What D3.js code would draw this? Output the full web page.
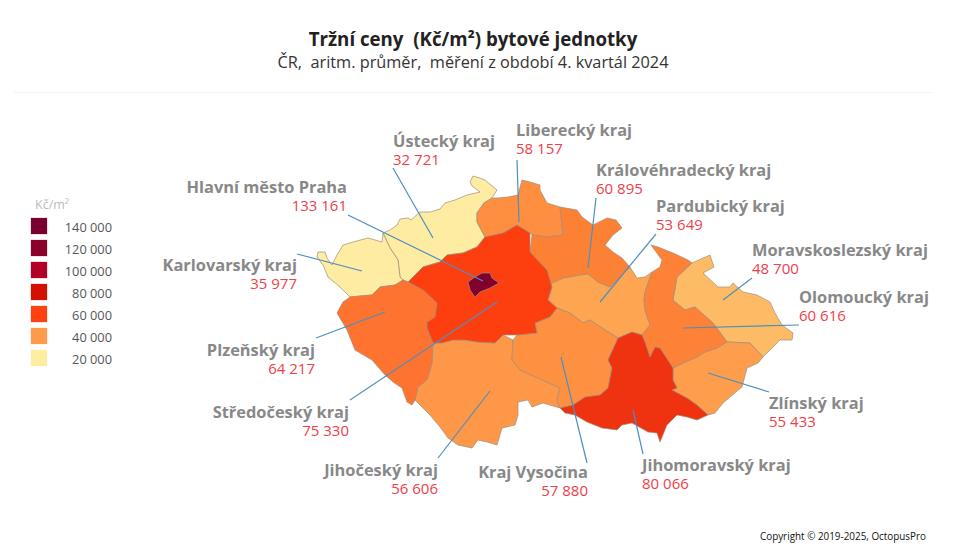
<!DOCTYPE html>
<html lang="cs">
<head>
<meta charset="utf-8">
<script src="https://cdnjs.cloudflare.com/ajax/libs/d3/7.8.5/d3.min.js"></script>
<style>
  html, body { margin: 0; background: #fff; }
  svg { display: block; font-family: "Open Sans", sans-serif; }
</style>
</head>
<body>
<svg id="chart"></svg>
<script>
// values from the picture
const regionNames = ["Ústecký kraj", "Liberecký kraj", "Královéhradecký kraj", "Pardubický kraj",
  "Hlavní město Praha", "Moravskoslezský kraj", "Karlovarský kraj", "Olomoucký kraj", "Plzeňský kraj",
  "Středočeský kraj", "Zlínský kraj", "Jihočeský kraj", "Kraj Vysočina", "Jihomoravský kraj"];
const regionPrices = [32721, 58157, 60895, 53649, 133161, 48700, 35977, 60616, 64217, 75330, 55433, 56606, 57880, 80066];

const legendTicks = [140000, 120000, 100000, 80000, 60000, 40000, 20000];
const legendColors = ["#7a0030", "#8b0026", "#b10026", "#d41000", "#ff4010", "#fe9a49", "#ffeda0"];

const fillPrices = [36000, 48700, 56000, 61000, 64000, 75000, 80000, 133000];
const fillColors = ["#feeca3", "#febb66", "#fe9a49", "#fd8035", "#fe7430", "#fe4010", "#ef320f", "#80002f"];

// region outlines in map units
const outlines = {
  "Ústecký kraj": [[383,233],[390,230],[397,225],[400,219],[408,218],[411,220],[420,212],[430,212],[440,209],[445,203],[455,200],[467,195],[480,192],[472,186],[470,182],[473,176],[480,178],[485,180],[497,190],[492,198],[484,203],[477,213],[477,222],[485,237],[477,247],[463,253],[447,255],[440,262],[423,267],[408,282],[403,280],[400,277],[398,260],[390,248]],
  "Karlovarský kraj": [[383,233],[390,248],[398,260],[400,277],[403,280],[395,285],[380,287],[372,295],[360,296],[350,297],[340,287],[328,277],[323,265],[317,257],[318,252],[325,252],[327,258],[332,265],[337,255],[343,245],[353,242],[368,238],[382,242]],
  "Plzeňský kraj": [[350,297],[360,296],[372,295],[380,287],[395,285],[403,280],[408,282],[423,290],[437,303],[435,317],[427,322],[427,328],[433,343],[432,363],[427,380],[418,387],[415,400],[412,405],[407,402],[402,388],[393,382],[385,375],[372,360],[355,350],[347,330],[337,313],[343,302]],
  "Středočeský kraj": [[408,282],[423,267],[440,262],[447,255],[463,253],[477,247],[485,237],[503,233],[517,225],[530,233],[530,252],[547,270],[552,287],[548,300],[557,308],[550,317],[535,323],[537,333],[517,335],[503,335],[495,343],[477,342],[465,340],[453,340],[442,343],[433,343],[427,328],[427,322],[435,317],[437,303],[423,290]],
  "Jihočeský kraj": [[433,343],[442,343],[453,340],[465,340],[477,342],[495,343],[503,335],[513,340],[512,360],[520,370],[538,378],[560,388],[557,400],[560,408],[543,403],[532,407],[528,400],[518,402],[518,415],[515,425],[502,428],[497,445],[487,442],[478,440],[472,448],[458,445],[448,438],[440,427],[430,415],[415,400],[418,387],[427,380],[432,363]],
  "Kraj Vysočina": [[513,340],[517,335],[537,333],[535,323],[550,317],[557,308],[570,313],[583,323],[590,320],[605,330],[618,338],[608,360],[612,368],[608,388],[600,395],[585,397],[573,405],[560,408],[557,400],[560,388],[538,378],[520,370],[512,360]],
  "Jihomoravský kraj": [[618,338],[632,332],[642,335],[645,342],[650,357],[655,347],[660,348],[673,368],[673,380],[677,388],[672,390],[687,398],[697,405],[708,415],[697,420],[687,417],[677,415],[667,425],[660,442],[657,433],[648,432],[632,423],[622,425],[617,430],[602,428],[587,422],[575,415],[565,413],[560,408],[573,405],[585,397],[600,395],[608,388],[612,368],[608,360]],
  "Zlínský kraj": [[673,368],[685,362],[697,357],[705,352],[717,348],[727,342],[750,343],[763,357],[758,363],[747,368],[742,387],[730,397],[723,403],[715,413],[708,415],[697,405],[687,398],[672,390],[677,388],[673,380]],
  "Olomoucký kraj": [[651,245],[658,247],[673,253],[688,260],[692,263],[677,277],[673,300],[685,310],[695,307],[713,323],[727,342],[717,348],[705,352],[697,357],[685,362],[673,368],[660,348],[655,347],[650,357],[645,342],[642,335],[650,325],[645,310],[644,300],[645,292],[652,272],[660,267],[662,260]],
  "Moravskoslezský kraj": [[692,263],[710,255],[714,267],[703,273],[718,287],[730,287],[733,283],[743,292],[757,295],[770,302],[775,313],[782,325],[793,333],[792,340],[780,340],[772,348],[763,357],[750,343],[727,342],[713,323],[695,307],[685,310],[673,300],[677,277]],
  "Pardubický kraj": [[548,285],[563,278],[580,275],[588,274],[598,282],[610,287],[630,267],[637,278],[645,277],[652,272],[645,292],[644,300],[645,310],[650,325],[642,335],[632,332],[618,338],[605,330],[590,320],[583,323],[570,313],[557,308],[548,300],[552,287]],
  "Královéhradecký kraj": [[532,235],[547,237],[563,235],[560,207],[577,210],[582,217],[593,225],[607,218],[616,220],[622,228],[613,235],[605,245],[613,252],[622,258],[630,267],[610,287],[598,282],[588,274],[580,275],[563,278],[548,285],[547,270],[530,252]],
  "Liberecký kraj": [[492,198],[497,198],[508,197],[518,195],[522,180],[530,182],[540,185],[540,190],[547,203],[560,207],[563,235],[547,237],[532,235],[530,233],[517,225],[503,233],[485,237],[477,222],[477,213],[484,203]],
  "Hlavní město Praha": [[468,282],[475,277],[482,273],[490,273],[492,278],[499,283],[490,288],[480,292],[475,297],[470,290]]
};

// leader ends in map units: label side, then region side
const leaderStarts = [[393,168],[517,160],[596,198],[656,234],[348,215],[752,278],[297,254],[799,325],[316,338],[350,400],[769,392],[438,458],[587,463],[643,454]];
const leaderEnds = [[433,238],[519,222],[588,268],[600,302],[483,281],[723,300],[362,271],[683,328],[385,312],[497,302],[708,373],[490,391],[561,357],[633,410]];

const labelAnchors = ["start", "start", "start", "start", "end", "start", "end", "start", "end", "end", "start", "end", "end", "start"];
const labelX = [393, 516, 596, 656, 347, 752, 297, 799, 315, 349, 769, 438, 588, 642];
const labelY = [147, 136, 176, 212, 193, 256, 271, 303, 356, 418, 409, 476, 478, 471];

const w = 968;
const h = 557;

const svg = d3.select("#chart").attr("width", w).attr("height", h);

const format = (v) => d3.format(",")(v).replace(/,/g, " ");
const color = d3.scaleLinear().domain(fillPrices).range(fillColors).clamp(true);
const projection = d3.geoIdentity();
const path = d3.geoPath(projection);

const regions = regionNames.map((name, i) => ({
  name,
  price: regionPrices[i],
  start: leaderStarts[i],
  end: leaderEnds[i],
  anchor: labelAnchors[i],
  x: labelX[i],
  y: labelY[i],
  geo: { type: "Polygon", coordinates: [outlines[name].concat([outlines[name][0]])] }
}));

// header
svg.append("text")
  .attr("x", 473).attr("y", 46)
  .attr("text-anchor", "middle")
  .attr("font-size", 18.7).attr("font-weight", 700).attr("fill", "#222")
  .attr("xml:space", "preserve")
  .text("Tržní ceny  (Kč/m²) bytové jednotky");

svg.append("text")
  .attr("x", 473).attr("y", 68)
  .attr("text-anchor", "middle")
  .attr("font-size", 16.3).attr("fill", "#333")
  .attr("xml:space", "preserve")
  .text("ČR,  aritm. průměr,  měření z období 4. kvartál 2024");

svg.append("line")
  .attr("x1", 14).attr("x2", 932).attr("y1", 92.5).attr("y2", 92.5)
  .attr("stroke", "#f3f3f3");

// map, Praha goes on top of Středočeský
svg.append("g")
  .selectAll("path")
  .data(d3.sort(regions, (d) => d.price))
  .enter()
  .append("path")
  .attr("d", (d) => path(d.geo))
  .attr("fill", (d) => color(d.price))
  .attr("stroke", "#a08c78")
  .attr("stroke-width", 0.7)
  .attr("stroke-linejoin", "round");

// leaders
svg.append("g")
  .selectAll("line")
  .data(regions)
  .enter()
  .append("line")
  .attr("x1", (d) => d.start[0])
  .attr("y1", (d) => d.start[1])
  .attr("x2", (d) => d.end[0])
  .attr("y2", (d) => d.end[1])
  .attr("stroke", "#4d8fbf")
  .attr("stroke-width", 1.2);

// labels
const labels = svg.append("g")
  .selectAll("g")
  .data(regions)
  .enter()
  .append("g")
  .attr("text-anchor", (d) => d.anchor);

labels.append("text")
  .attr("x", (d) => d.x)
  .attr("y", (d) => d.y)
  .attr("font-size", 16.4).attr("font-weight", 700).attr("fill", "#888")
  .text((d) => d.name);

labels.append("text")
  .attr("x", (d) => d.x)
  .attr("y", (d) => d.y + 18)
  .attr("font-size", 15).attr("fill", "#f0404a")
  .text((d) => format(d.price));

// legend
const legendY = d3.scaleBand().domain(legendTicks).range([215, 369]);

svg.append("text")
  .attr("x", 35).attr("y", 209)
  .attr("font-size", 12.5).attr("fill", "#bbb")
  .text("Kč/m²");

const legendRows = svg.append("g")
  .selectAll("g")
  .data(legendTicks)
  .enter()
  .append("g")
  .attr("transform", (d) => `translate(0, ${legendY(d)})`);

legendRows.append("rect")
  .attr("x", 31).attr("y", 3)
  .attr("width", 16).attr("height", 16)
  .attr("fill", (d, i) => legendColors[i])
  .attr("stroke", (d, i) => legendColors[i])
  .attr("stroke-opacity", 0.25);

legendRows.append("text")
  .attr("x", 112).attr("y", 16.5)
  .attr("text-anchor", "end")
  .attr("font-size", 12.8).attr("fill", "#555")
  .text(format);

svg.append("text")
  .attr("x", 926).attr("y", 540)
  .attr("text-anchor", "end")
  .attr("font-size", 9.9).attr("fill", "#111")
  .text("Copyright © 2019-2025, OctopusPro");
</script>
</body>
</html>
